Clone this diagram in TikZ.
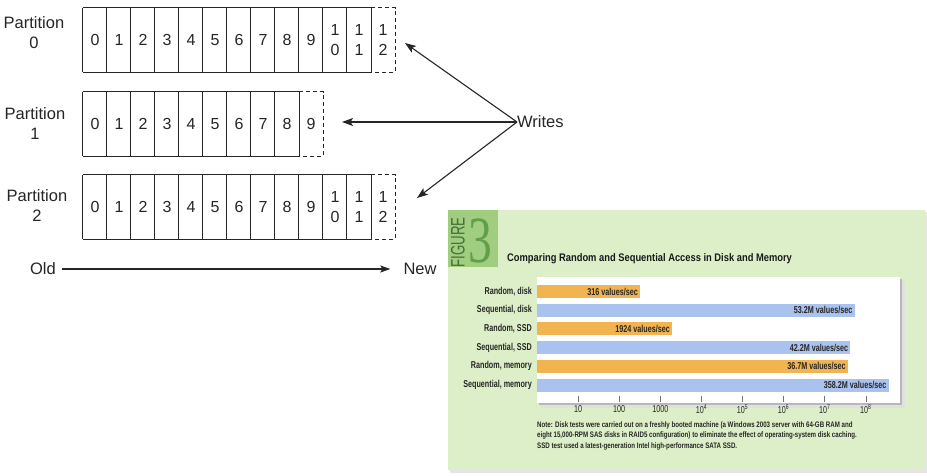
\documentclass[tikz,border=0pt]{standalone}
\usepackage{fontspec}
\setmainfont{Liberation Sans}
\newfontfamily\condfont[FakeStretch=0.72]{Liberation Sans}
\newfontfamily\notefont[FakeStretch=0.77]{Liberation Sans}
\newfontfamily\titlefont[FakeStretch=0.85]{Liberation Sans}
\newfontfamily\figsansfont[FakeStretch=0.68]{Liberation Sans}
\newfontfamily\bigserif[FakeStretch=0.72]{Liberation Serif}
\usetikzlibrary{arrows.meta}
\definecolor{ink}{HTML}{262626}
\definecolor{panelgreen}{RGB}{221,239,200}
\definecolor{blockgreen}{RGB}{160,205,128}
\definecolor{threegreen}{RGB}{98,160,72}
\definecolor{figtext}{RGB}{70,110,55}
\definecolor{barorange}{RGB}{242,180,80}
\definecolor{barblue}{RGB}{170,194,238}
\tikzset{
  cell/.style={minimum width=24pt, minimum height=64pt, inner sep=0pt,
    font=\fontsize{16}{20}\selectfont, align=center, text=ink},
  gridline/.style={draw=ink, line width=1.2pt},
  dashside/.style={draw=ink, line width=1.2pt, dash pattern=on 4pt off 3pt},
  plabel/.style={font=\fontsize{16.5}{20}\selectfont, align=center, text=ink, inner sep=0pt},
  wline/.style={draw=ink, line width=1.1pt, -{Stealth[length=11pt,width=8pt,inset=2.5pt]}},
  oline/.style={draw=ink, line width=1.1pt, -{Stealth[length=10pt,width=7pt,inset=2pt]}},
  barlabel/.style={font=\condfont\bfseries\fontsize{10}{11}\selectfont, anchor=east, inner sep=0pt, text=black!85},
  vallabel/.style={font=\condfont\bfseries\fontsize{10}{11}\selectfont, anchor=east, inner sep=0pt, text=black!85},
  ticklabel/.style={font=\condfont\fontsize{10}{11}\selectfont, inner sep=0pt, text=black!85},
  notetext/.style={font=\notefont\bfseries\fontsize{8}{9}\selectfont, anchor=base west, inner sep=0pt, text=black!85},
  tickmark/.style={draw=black!55, line width=0.6pt},
}
\begin{document}
\begin{tikzpicture}[x=1pt,y=-1pt]
\useasboundingbox (0,0) rectangle (927,475);
\fill[white] (0,0) rectangle (927,475);

% ---------- Partition 0 ----------
\node[plabel] (lab0) at (34,33) {Partition\\0};
\foreach \i in {0,...,9} \node[cell] (p0c\i) at ({95+24*\i},40) {\i};
\node[cell] (p0c10) at (335,40) {1\\0};
\node[cell] (p0c11) at (359,40) {1\\1};
\node[cell] (p0c12) at (383,40) {1\\2};
\draw[gridline] (p0c0.north west) -- (p0c11.north east);
\draw[gridline] (p0c0.south west) -- (p0c11.south east);
\foreach \i in {0,...,11} \draw[gridline] (p0c\i.north west) -- (p0c\i.south west);
\draw[gridline] (p0c11.north east) -- (p0c11.south east);
\draw[dashside] (p0c12.north west) -- (p0c12.north east) -- (p0c12.south east) -- (p0c12.south west);

% ---------- Partition 1 ----------
\node[plabel] (lab1) at (35,123.5) {Partition\\1};
\foreach \i in {0,...,9} \node[cell] (p1c\i) at ({95+24*\i},124) {\i};
\draw[gridline] (p1c0.north west) -- (p1c8.north east);
\draw[gridline] (p1c0.south west) -- (p1c8.south east);
\foreach \i in {0,...,8} \draw[gridline] (p1c\i.north west) -- (p1c\i.south west);
\draw[gridline] (p1c8.north east) -- (p1c8.south east);
\draw[dashside] (p1c9.north west) -- (p1c9.north east) -- (p1c9.south east) -- (p1c9.south west);

% ---------- Partition 2 ----------
\node[plabel] (lab2) at (37,206) {Partition\\2};
\foreach \i in {0,...,9} \node[cell] (p2c\i) at ({95+24*\i},207) {\i};
\node[cell] (p2c10) at (335,207) {1\\0};
\node[cell] (p2c11) at (359,207) {1\\1};
\node[cell] (p2c12) at (383,207) {1\\2};
\draw[gridline] (p2c0.north west) -- (p2c11.north east);
\draw[gridline] (p2c0.south west) -- (p2c11.south east);
\foreach \i in {0,...,11} \draw[gridline] (p2c\i.north west) -- (p2c\i.south west);
\draw[gridline] (p2c11.north east) -- (p2c11.south east);
\draw[dashside] (p2c12.north west) -- (p2c12.north east) -- (p2c12.south east) -- (p2c12.south west);

% ---------- Writes ----------
\node[plabel, anchor=west] (writes) at (517,122) {Writes};
\coordinate (t0) at (405,43);
\coordinate (t1) at (342,122);
\coordinate (t2) at (417,198);
\draw[wline] (writes.west) -- (t0);
\draw[wline] (writes.west) -- (t1);
\draw[wline] (writes.west) -- (t2);

% ---------- Old -> New ----------
\node[plabel] (old) at (43,269) {Old};
\node[plabel] (new) at (420,269) {New};
\draw[oline, shorten <=6pt, shorten >=13pt] (old.east) -- (new.west);

% ---------- Figure 3 panel ----------
\fill[black!10] (450,212) rectangle (927,473);
\fill[panelgreen] (448,210) rectangle (925,470);
\fill[blockgreen] (448,210) rectangle (498,267);
\node[text=threegreen, font=\bigserif\fontsize{66}{66}\selectfont, inner sep=0pt] (three) at (480,240.5) {3};
\node[rotate=90, text=figtext, font=\figsansfont\fontsize{19.5}{20}\selectfont, inner sep=0pt] (figword) at (458,242.5) {FIGURE};
\node[anchor=base west, font=\titlefont\bfseries\fontsize{11}{12}\selectfont, inner sep=0pt, text=black!90] (title) at (507,261.5) {Comparing Random and Sequential Access in Disk and Memory};

% chart panel with shadow
\fill[black!12] (541,281) rectangle (905,408);
\fill[black!28] (539,279) rectangle (902,405);
\fill[white] (537,277) rectangle (900,403);

% bars
\fill[barorange] (537,285) rectangle (639.7,298);
\fill[barblue]   (537,303.7) rectangle (854.5,316.7);
\fill[barorange] (537,322.4) rectangle (672.0,335.4);
\fill[barblue]   (537,341.1) rectangle (850.4,354.1);
\fill[barorange] (537,359.8) rectangle (847.9,372.8);
\fill[barblue]   (537,378.5) rectangle (888.6,391.5);

\node[barlabel] (bl1) at (532,291.5) {Random, disk};
\node[barlabel] (bl2) at (532,310.2) {Sequential, disk};
\node[barlabel] (bl3) at (532,328.9) {Random, SSD};
\node[barlabel] (bl4) at (532,347.6) {Sequential, SSD};
\node[barlabel] (bl5) at (532,366.3) {Random, memory};
\node[barlabel] (bl6) at (532,385.0) {Sequential, memory};

\node[vallabel] (v1) at (638,291.5) {316 values/sec};
\node[vallabel] (v2) at (852.5,310.2) {53.2M values/sec};
\node[vallabel] (v3) at (670,328.9) {1924 values/sec};
\node[vallabel] (v4) at (848.4,347.6) {42.2M values/sec};
\node[vallabel] (v5) at (845.9,366.3) {36.7M values/sec};
\node[vallabel] (v6) at (886.6,385.0) {358.2M values/sec};

% ticks
\foreach \k/\lab in {1/10, 2/100, 3/1000, 4/10\textsuperscript{4}, 5/10\textsuperscript{5}, 6/10\textsuperscript{6}, 7/10\textsuperscript{7}, 8/10\textsuperscript{8}} {
  \draw[tickmark] ({537+41.1*\k},396) -- ({537+41.1*\k},402);
  \node[ticklabel] (tk\k) at ({537+41.1*\k},409) {\lab};
}

% note
\node[notetext] (n1) at (537,427) {Note: Disk tests were carried out on a freshly booted machine (a Windows 2003 server with 64-GB RAM and};
\node[notetext] (n2) at (537,437.5) {eight 15,000-RPM SAS disks in RAID5 configuration) to eliminate the effect of operating-system disk caching.};
\node[notetext] (n3) at (537,448) {SSD test used a latest-generation Intel high-performance SATA SSD.};
\end{tikzpicture}
\end{document}
